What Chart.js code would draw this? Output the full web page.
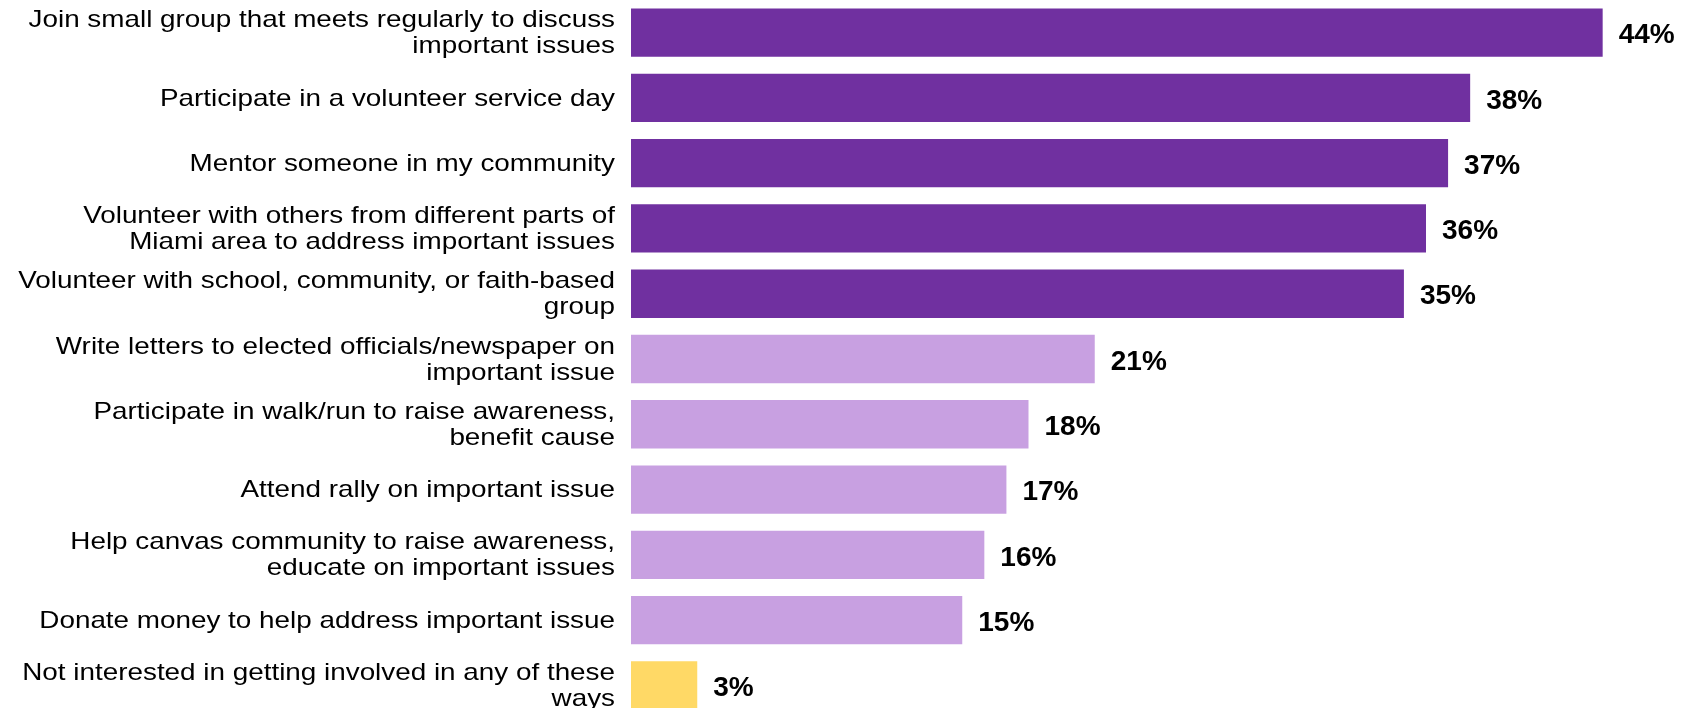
<!DOCTYPE html>
<html>
<head>
<meta charset="utf-8">
<script src="https://cdn.jsdelivr.net/npm/chart.js@4/dist/chart.umd.min.js"></script>
<style>
  html, body { margin: 0; padding: 0; background: #fff; overflow: hidden; }
  #wrap { position: absolute; left: 0; top: 0; }
</style>
</head>
<body>
<div id="wrap"><canvas id="myChart" width="1691" height="718"></canvas></div>
<script>
// categories (wrapped as they appear on the axis)
var acoes = [
    ['Join small group that meets regularly to discuss', 'important issues'],
    'Participate in a volunteer service day',
    'Mentor someone in my community',
    ['Volunteer with others from different parts of', 'Miami area to address important issues'],
    ['Volunteer with school, community, or faith-based', 'group'],
    ['Write letters to elected officials/newspaper on', 'important issue'],
    ['Participate in walk/run to raise awareness,', 'benefit cause'],
    'Attend rally on important issue',
    ['Help canvas community to raise awareness,', 'educate on important issues'],
    'Donate money to help address important issue',
    ['Not interested in getting involved in any of these', 'ways']
];
var percentuais = [44, 38, 37, 36, 35, 21, 18, 17, 16, 15, 3];
var grupos = ['top', 'top', 'top', 'top', 'top', 'mid', 'mid', 'mid', 'mid', 'mid', 'none'];

var coresGrupo = { top: '#7030A0', mid: '#C8A0E1', none: '#FFD966' };

// category text is drawn by hand so it can be widened a bit (scaleX)
var eixoY = {
    id: 'eixoY',
    afterDraw: function(chart){
        var ctx = chart.ctx;
        var y = chart.scales.y;
        var sx = 1.16;
        var direita = chart.chartArea.left - 16;
        ctx.save();
        ctx.font = '24px "Liberation Sans", Arial, sans-serif';
        ctx.fillStyle = '#000';
        ctx.textAlign = 'right';
        ctx.textBaseline = 'middle';
        ctx.scale(sx, 1);
        acoes.forEach(function(rotulo, i){
            var linhas = Array.isArray(rotulo) ? rotulo : [rotulo];
            var cy = y.getPixelForTick(i) + 1 - (linhas.length - 1) * 13;
            linhas.forEach(function(l, j){
                ctx.fillText(l, direita / sx, cy + j * 26);
            });
        });
        ctx.restore();
    }
};

// writes "NN%" just past the end of each bar
var rotulos = {
    id: 'rotulos',
    afterDatasetsDraw: function(chart){
        var ctx = chart.ctx;
        var meta = chart.getDatasetMeta(0);
        ctx.save();
        ctx.font = 'bold 28px "Liberation Sans", Arial, sans-serif';
        ctx.fillStyle = '#000';
        ctx.textAlign = 'left';
        ctx.textBaseline = 'middle';
        meta.data.forEach(function(bar, i){
            ctx.fillText(percentuais[i] + '%', bar.x + 16, bar.y + 3);
        });
        ctx.restore();
    }
};

function grafico(){
    var ctx = document.getElementById('myChart');
    new Chart(ctx, {
        type: 'bar',
        data: {
            labels: acoes,
            datasets: [{
                data: percentuais,
                backgroundColor: grupos.map(function(g){ return coresGrupo[g]; }),
                borderWidth: 0,
                categoryPercentage: 1,
                barPercentage: 0.74
            }]
        },
        options: {
            indexAxis: 'y',
            responsive: false,
            animation: false,
            layout: { padding: 0 },
            plugins: { legend: { display: false }, tooltip: { enabled: false } },
            scales: {
                x: { display: false, min: 0, max: 48 },
                y: {
                    grid: { display: false, drawTicks: false },
                    border: { display: false },
                    ticks: { display: false },
                    afterFit: function(scale){
                        scale.width = 631;
                        scale.paddingTop = 0;
                        scale.paddingBottom = 0;
                    }
                }
            }
        },
        plugins: [rotulos, eixoY]
    });
}

grafico();
</script>
</body>
</html>
